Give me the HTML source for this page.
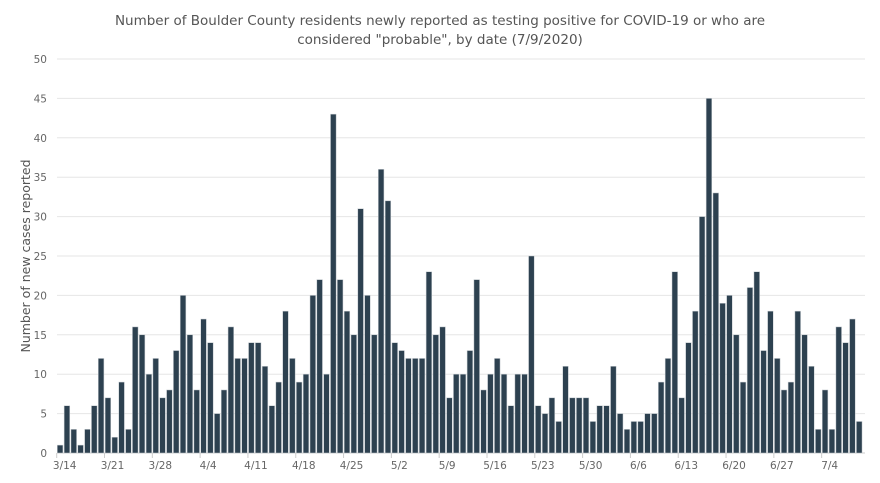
<!DOCTYPE html>
<html><head><meta charset="utf-8"><style>
body{margin:0;background:#fff;}
svg{display:block;font-family:"DejaVu Sans","Liberation Sans",sans-serif;}
</style></head><body>
<svg id="c" width="880" height="483" xmlns="http://www.w3.org/2000/svg">
<text x="440" y="25" text-anchor="middle" font-size="13.5" fill="#555">Number of Boulder County residents newly reported as testing positive for COVID-19 or who are</text>
<text x="440" y="44" text-anchor="middle" font-size="13.5" fill="#555">considered "probable", by date (7/9/2020)</text>
<text transform="translate(30,256) rotate(-90)" text-anchor="middle" font-size="12.5" fill="#555">Number of new cases reported</text>
<g id="grid"></g>
<g id="ylab" font-size="10.5" fill="#666" text-anchor="end"></g>
<g id="bars"></g>
<g id="xlab" font-size="10.5" fill="#666" text-anchor="middle"></g>
</svg>
<script>
var d=[1,6,3,1,3,6,12,7,2,9,3,16,15,10,12,7,8,13,20,15,8,17,14,5,8,16,12,12,14,14,11,6,9,18,12,9,10,20,22,10,43,22,18,15,31,20,15,36,32,14,13,12,12,12,23,15,16,7,10,10,13,22,8,10,12,10,6,10,10,25,6,5,7,4,11,7,7,7,4,6,6,11,5,3,4,4,5,5,9,12,23,7,14,18,30,45,33,19,20,15,9,21,23,13,18,12,8,9,18,15,11,3,8,3,16,14,17,4];
var ns="http://www.w3.org/2000/svg";
function el(t,a,p,txt){var e=document.createElementNS(ns,t);for(var k in a)e.setAttribute(k,a[k]);if(txt!=null)e.textContent=txt;document.getElementById(p).appendChild(e);}
var y0=453,u=7.88,x0=56.7,w=6.83;
for(var v=0;v<=50;v+=5){var y=y0-v*u;el("line",{x1:57,x2:865,y1:y,y2:y,stroke:"#e6e6e6","stroke-width":1},"grid");el("text",{x:47,y:y+4},"ylab",String(v));}
for(var i=0;i<d.length;i++){var h=d[i]*u;el("rect",{x:x0+i*w+0.6,y:y0-h,width:w-1.2,height:h,fill:"#2d4150",stroke:"#c8ced2","stroke-width":0.5},"bars");}
var labs=["3/14","3/21","3/28","4/4","4/11","4/18","4/25","5/2","5/9","5/16","5/23","5/30","6/6","6/13","6/20","6/27","7/4"];
for(var j=0;j<labs.length;j++){var x=x0+j*7*w;el("line",{x1:x,x2:x,y1:y0,y2:y0+5,stroke:"#ccc"},"grid");el("text",{x:x+8,y:469},"xlab",labs[j]);}
el("line",{x1:57,x2:865,y1:y0,y2:y0,stroke:"#ccc"},"grid");
</script>
</body></html>
